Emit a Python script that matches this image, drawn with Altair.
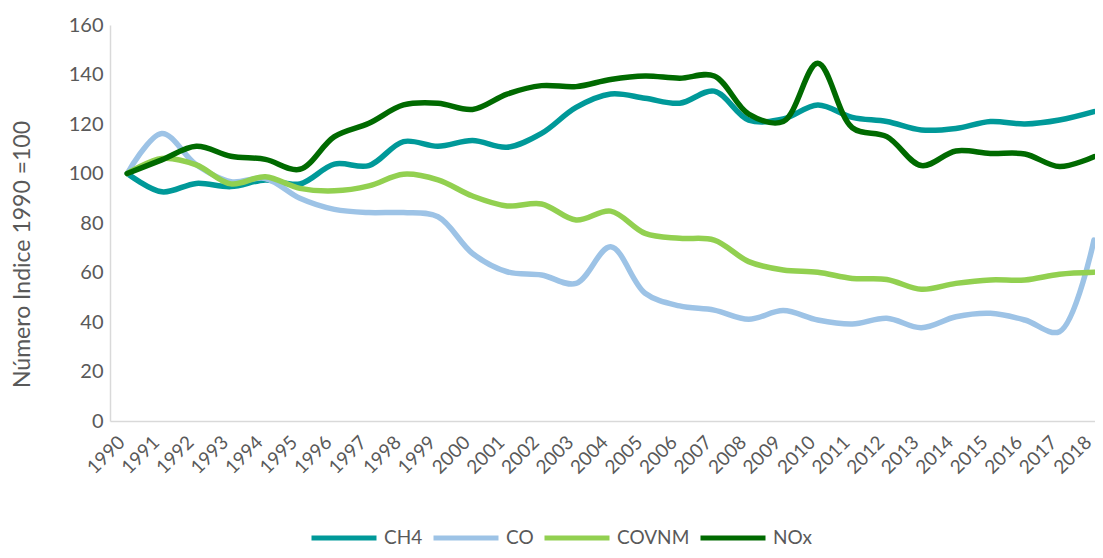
import altair as alt
import pandas as pd

years = list(range(1990, 2019))
ch4 = [100, 92.6, 96, 94.7, 97.4, 95.8, 103.8, 103.2, 112.9, 111, 113.3, 110.6, 116.2, 126.7,
       132.1, 130.4, 128.4, 133.3, 121.6, 122, 127.7, 122.7, 121, 117.6, 118.2, 121, 120, 121.6, 125]
co = [100, 116.2, 103.5, 96.7, 98, 90, 85.5, 84.2, 84.2, 82.5, 67.7, 60.3, 59, 55.6,
      70.4, 51.6, 46.5, 44.8, 41.1, 44.6, 40.8, 39.2, 41.5, 37.7, 42.1, 43.5, 40.8, 36.1, 73.1]
covnm = [100, 106.1, 103.5, 95.8, 98.7, 94, 93, 95, 99.7, 97.4, 90.9, 86.9, 87.7, 81.2,
         84.8, 75.8, 73.8, 73.1, 64.4, 61, 60.1, 57.6, 57.2, 53.2, 55.6, 57, 57, 59.3, 60.1]
nox = [100, 105.5, 111, 107, 105.7, 101.7, 114.9, 120.3, 127.7, 128.4, 125.9, 132.1, 135.5, 135.1,
       138, 139.4, 138.5, 139.4, 124, 121, 144.5, 118.5, 114.9, 103.2, 109.1, 108.1, 107.9, 102.8, 106.8]

series = {"CH4": ch4, "CO": co, "COVNM": covnm, "NOx": nox}
names = list(series.keys())
colors = ["#009999", "#9DC3E6", "#92D050", "#006A00"]

rows = []
for name, vals in series.items():
    for y, v in zip(years, vals):
        rows.append({"Año": y, "Serie": name, "Valor": v})
df = pd.DataFrame(rows)

chart = alt.Chart(df).mark_line(
    interpolate="catmull-rom", strokeWidth=5.5, strokeCap="round", strokeJoin="round"
).encode(
    x=alt.X("Año:Q",
            scale=alt.Scale(domain=[1989.5, 2018.03], nice=False, zero=False),
            axis=alt.Axis(values=years, format="d", labelAngle=-45, labelAlign="right",
                          labelBaseline="middle", labelPadding=18, labelOffset=-6, labelFontSize=19,
                          labelColor="#595959", labelFont="Lato", ticks=False,
                          domainColor="#D9D9D9", domainWidth=1.5, grid=False, title=None,
                          labelOverlap=False, labelBound=False)),
    y=alt.Y("Valor:Q",
            scale=alt.Scale(domain=[0, 160], nice=False),
            axis=alt.Axis(values=list(range(0, 161, 20)), labelFontSize=20, labelColor="#595959",
                          labelFont="Lato", labelPadding=7, ticks=False, grid=False,
                          domainColor="#D9D9D9", domainWidth=1.5,
                          title="Número Indice 1990 =100", titleFont="Lato", titleFontSize=23,
                          titleFontWeight="normal", titleColor="#595959",
                          titleX=-88, titleY=229, titleAngle=-90, titleBaseline="middle",
                          titleAlign="center")),
    color=alt.Color("Serie:N",
                    scale=alt.Scale(domain=names, range=colors),
                    legend=alt.Legend(orient="none", legendX=199, legendY=478, direction="horizontal",
                                      title=None, symbolType="stroke", symbolSize=4225,
                                      symbolStrokeWidth=5, labelFont="Lato", labelFontSize=19,
                                      labelColor="#595959", labelOffset=5, columnPadding=0,
                                      gridAlign="none", labelLimit=200, padding=0))
).properties(
    width=985, height=396,
    autosize=alt.AutoSizeParams(type="none"),
    padding={"left": 102, "top": 17, "right": 0, "bottom": 127}
).configure_view(stroke=None)

chart.save("out.html", embed_options={"renderer": "svg", "actions": False})
